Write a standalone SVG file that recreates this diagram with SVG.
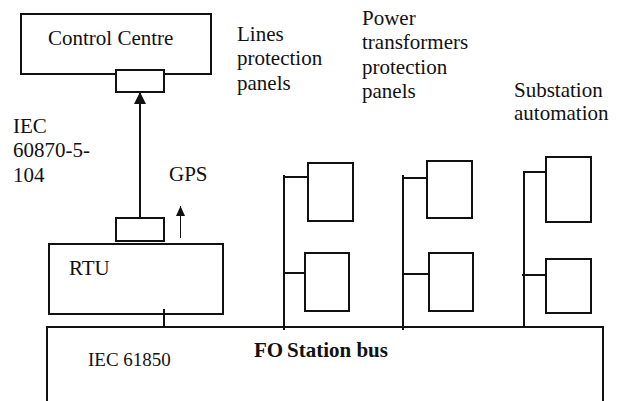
<svg xmlns="http://www.w3.org/2000/svg" width="618" height="401" viewBox="0 0 618 401">
<defs>
<style>
.t{font-size:21px;fill:#111}
.box{fill:#fff;stroke:#111;stroke-width:2}
.ln{fill:none;stroke:#111;stroke-width:2}
.thin{fill:none;stroke:#111;stroke-width:1}
.b{font-weight:bold}
</style>
<marker id="ah" viewBox="0 0 12 14" refX="12" refY="7" markerWidth="12" markerHeight="14" markerUnits="userSpaceOnUse" orient="auto"><path d="M0,1 L12,7 L0,13 Z" fill="#111"/></marker>
<marker id="ahs" viewBox="0 0 10 9" refX="10" refY="4.5" markerWidth="10" markerHeight="9" markerUnits="userSpaceOnUse" orient="auto"><path d="M0,0 L10,4.5 L0,9 Z" fill="#111"/></marker>
</defs>
<rect width="618" height="401" fill="#fff"/>
<g font-family="Liberation Serif, Times New Roman, DejaVu Serif, serif">
<g id="bus">
<path class="ln" d="M47,405 V327 H603 V405"/>
<text class="t" x="88" y="366" style="font-size:19px">IEC 61850</text>
<text class="t b" x="254" y="357">FO</text><text class="t b" x="287" y="357">Station bus</text>
</g>
<g id="control-centre">
<rect class="box" x="21" y="14" width="190" height="60"/>
<text class="t" x="48" y="45">Control Centre</text>
<rect class="box" x="116" y="70" width="48" height="22"/>
</g>
<g id="rtu">
<rect class="box" x="49" y="244" width="174" height="70"/>
<text class="t" x="69" y="275">RTU</text>
<rect class="box" x="116" y="218" width="48" height="23"/>
</g>
<g id="lines-panels">
<rect class="box" x="308" y="163" width="45" height="58"/>
<rect class="box" x="305" y="253" width="44" height="58"/>
<text class="t" x="237" y="41">Lines</text>
<text class="t" x="237" y="65">protection</text>
<text class="t" x="237" y="90">panels</text>
</g>
<g id="transformer-panels">
<rect class="box" x="427" y="161" width="45" height="57"/>
<rect class="box" x="429" y="253" width="44" height="58"/>
<text class="t" x="362" y="25">Power</text>
<text class="t" x="362" y="49">transformers</text>
<text class="t" x="362" y="74">protection</text>
<text class="t" x="362" y="98">panels</text>
</g>
<g id="substation-automation">
<rect class="box" x="546" y="157" width="45" height="65"/>
<rect class="box" x="546" y="259" width="45" height="54"/>
<text class="t" x="514" y="97">Substation</text>
<text class="t" x="514" y="120">automation</text>
</g>
<g id="labels">
<text class="t" x="13" y="133">IEC</text>
<text class="t" x="13" y="157">60870-5-</text>
<text class="t" x="13" y="182">104</text>
<text class="t" x="169" y="181">GPS</text>
</g>
</g>
<g id="connectors">
<line class="ln" x1="140" y1="218" x2="140" y2="92" marker-end="url(#ah)"/>
<line class="thin" x1="180.5" y1="238" x2="180.5" y2="206" marker-end="url(#ahs)"/>
<line class="ln" x1="164" y1="309" x2="164" y2="327"/>
<line class="ln" x1="284" y1="175" x2="284" y2="330"/>
<line class="ln" x1="284" y1="177" x2="308" y2="177"/>
<line class="ln" x1="284" y1="273" x2="305" y2="273"/>
<line class="ln" x1="403" y1="175" x2="403" y2="330"/>
<line class="ln" x1="402" y1="178" x2="427" y2="178"/>
<line class="ln" x1="403" y1="274" x2="429" y2="274"/>
<line class="ln" x1="524" y1="171" x2="524" y2="327"/>
<line class="ln" x1="524" y1="172" x2="546" y2="172"/>
<line class="ln" x1="522" y1="275" x2="546" y2="275"/>
</g>
</svg>
